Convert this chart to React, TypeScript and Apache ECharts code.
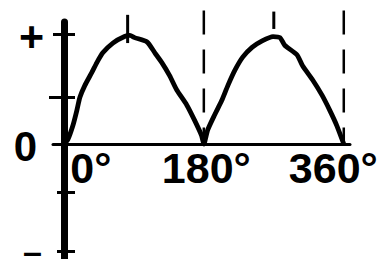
import React, { useEffect, useRef } from 'react';
import * as echarts from 'echarts';

// Rectified sine wave: angle (degrees) and value (peak = 1)
const angles = [0, 5, 11.6, 16.7, 20.6, 27, 36, 42.4, 50, 63, 78, 85, 91, 107, 117, 126, 136, 145, 158, 168, 177, 180,
  185, 194, 203, 211, 220, 230, 242, 255, 269, 278, 284, 300, 307, 320, 332, 342, 351, 360];
const values = [0, 0.04, 0.17, 0.31, 0.43, 0.54, 0.66, 0.75, 0.84, 0.93, 0.99, 1.0, 0.98, 0.94, 0.84, 0.75, 0.63, 0.5, 0.36, 0.22, 0.08, 0,
  0.13, 0.27, 0.4, 0.54, 0.68, 0.8, 0.89, 0.95, 0.99, 0.98, 0.91, 0.82, 0.72, 0.59, 0.45, 0.31, 0.17, 0];

const xTickValues = [0, 180, 360];
const xTickLabels = ['0°', '180°', '360°'];
const yLabelValues = [1, 0, -1];
const yLabels = ['+', '0', '–'];
const yTickValues = [1.01, 0.43, -0.44, -0.99];

// dashed guides (angle) from top level down to zero
const dashedGuides = [180, 360];
const guideTop = 1.23;
// short peak markers: angle, top, bottom
const peakMarkAngles = [82, 270];
const peakMarkTops = [1.19, 1.22];
const peakMarkBottoms = [0.93, 1.06];

const Y_MIN = -1.124;
const Y_MAX = 1.124;

const FONT = '"Liberation Sans", Arial, sans-serif';

function yAxisBase(extra: any) {
  return {
    type: 'value',
    min: Y_MIN,
    max: Y_MAX,
    position: 'left',
    offset: -11,
    splitLine: { show: false },
    axisLine: { show: false, onZero: true, onZeroAxisIndex: 0 },
    axisTick: { show: false },
    axisLabel: { show: false },
    ...extra,
  };
}

const tickStyle = { color: '#000', width: 3, cap: 'butt' };

export default function App() {
  const ref = useRef<HTMLDivElement>(null);
  useEffect(() => {
    const chart = echarts.init(ref.current!, null, { renderer: 'svg' });
    const curve = angles.map((a, i) => [a, values[i]]);
    const guideSeries = dashedGuides.map((a) => ({
      type: 'line',
      data: [[a, guideTop], [a, 0]],
      symbol: 'none',
      clip: false,
      silent: true,
      lineStyle: { color: '#000', width: 2.5, type: [24, 15], cap: 'butt' },
    }));
    const peakSeries = peakMarkAngles.map((a, i) => ({
      type: 'line',
      data: [[a, peakMarkTops[i]], [a, peakMarkBottoms[i]]],
      symbol: 'none',
      clip: false,
      silent: true,
      lineStyle: { color: '#000', width: 3, type: 'solid', cap: 'butt' },
    }));
    const xRich: any = {
      a: { fontFamily: FONT, fontWeight: 'bold', fontSize: 43, color: '#000', padding: [0, 0, 0, 54] },
      b: { fontFamily: FONT, fontWeight: 'bold', fontSize: 43, color: '#000', padding: [0, 0, 0, 5] },
      c: { fontFamily: FONT, fontWeight: 'bold', fontSize: 43, color: '#000', padding: [0, 21, 0, 0] },
    };
    const yRich: any = {
      p: { fontFamily: FONT, fontWeight: 'bold', fontSize: 43, color: '#000', padding: [1, 0, 0, 0] },
      z: { fontFamily: FONT, fontWeight: 'bold', fontSize: 42, color: '#000', padding: [4, 7, 0, 0] },
      m: { fontFamily: FONT, fontWeight: 'bold', fontSize: 34, lineHeight: 10, color: '#000', padding: [0, 2, 3, 0] },
    };
    chart.setOption({
      animation: false,
      backgroundColor: '#fff',
      grid: { left: 53, top: 22, width: 297, height: 244, containLabel: false, outerBoundsMode: 'none' },
      xAxis: {
        type: 'value',
        min: -14,
        max: 368,
        position: 'bottom',
        offset: -122,
        splitLine: { show: false },
        axisLine: { show: true, onZero: false, lineStyle: { color: '#000', width: 3 } },
        axisTick: { show: false },
        axisLabel: {
          show: true,
          customValues: xTickValues,
          margin: 2,
          fontFamily: FONT,
          fontWeight: 'bold',
          fontSize: 43,
          color: '#000',
          formatter: (v: number) => {
            const i = xTickValues.indexOf(v);
            return `{${['a', 'b', 'c'][i]}|${xTickLabels[i]}}`;
          },
          rich: xRich,
        },
      },
      yAxis: [
        yAxisBase({
          axisLine: { show: true, onZero: true, onZeroAxisIndex: 0, lineStyle: { color: '#000', width: 7 } },
          axisTick: { show: true, length: 11, customValues: [yTickValues[0]], lineStyle: tickStyle },
          axisLabel: {
            show: true,
            customValues: yLabelValues,
            margin: 20,
            fontFamily: FONT,
            fontWeight: 'bold',
            fontSize: 43,
            color: '#000',
            formatter: (v: number) => {
              const i = yLabelValues.indexOf(v);
              return `{${['p', 'z', 'm'][i]}|${yLabels[i]}}`;
            },
            rich: yRich,
          },
        }),
        yAxisBase({
          axisTick: { show: true, inside: true, length: 11, customValues: yTickValues, lineStyle: tickStyle },
        }),
        yAxisBase({
          axisTick: { show: true, length: 15, customValues: [yTickValues[1]], lineStyle: tickStyle },
        }),
        yAxisBase({
          axisTick: { show: true, length: 7, customValues: [yTickValues[2], yTickValues[3]], lineStyle: tickStyle },
        }),
      ],
      series: [
        ...guideSeries,
        ...peakSeries,
        {
          type: 'line',
          data: curve,
          symbol: 'none',
          smooth: 0.2,
          clip: false,
          silent: true,
          lineStyle: { color: '#000', width: 4.8, join: 'round' },
        },
      ],
    });
    return () => chart.dispose();
  }, []);
  return (
    <div
      ref={ref}
      style={{ position: 'absolute', left: 0, top: 0, width: 379, height: 259, background: '#fff', overflow: 'hidden' }}
    />
  );
}
